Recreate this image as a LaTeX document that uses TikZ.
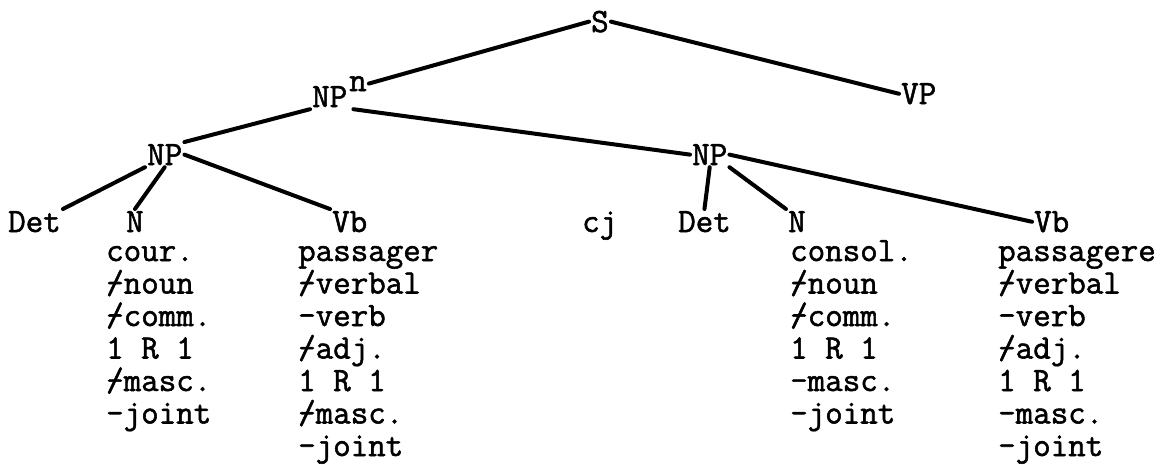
\documentclass[tikz,border=0pt]{standalone}
\usepackage{fontspec}
\newfontfamily\tw{Latin Modern Mono}[FakeBold=1.6]
\newcommand{\ov}{\rlap{/}-}
\begin{document}
\begin{tikzpicture}[x=1pt,y=-1pt,
  lbl/.style={anchor=base west,inner sep=2pt,font=\tw\fontsize{34}{32}\selectfont},
  edge/.style={line width=4pt,line cap=round}]
\useasboundingbox (0,0) rectangle (1175,464);
% top levels
\node[lbl] (s) at (589,32) {S};
\node[lbl] (npn) at (310,107) {NP};
\node[lbl] (sup) at (347,91) {n};
\node[lbl] (vp) at (899,104) {VP};
\node[lbl] (npl) at (145,165) {NP};
\node[lbl] (npr) at (690,165) {NP};
% terminals
\node[lbl] (detl) at (6,232) {Det};
\node[lbl] (nl) at (124,232) {N};
\node[lbl] (vbl) at (330,232) {Vb};
\node[lbl] (cj) at (580,232) {cj};
\node[lbl] (detr) at (676,232) {Det};
\node[lbl] (nr) at (786,232) {N};
\node[lbl] (vbr) at (1032,232) {Vb};
% feature columns
\foreach \t [count=\i from 0] in {cour.,\ov noun,\ov comm.,1 R 1,\ov masc.,-joint}
  \node[lbl] (fa\i) at (104,{261+32.5*\i}) {\t};
\foreach \t [count=\i from 0] in {passager,\ov verbal,-verb,\ov adj.,1 R 1,\ov masc.,-joint}
  \node[lbl] (fb\i) at (296,{261+32.5*\i}) {\t};
\foreach \t [count=\i from 0] in {consol.,\ov noun,\ov comm.,1 R 1,-masc.,-joint}
  \node[lbl] (fc\i) at (788,{261+32.5*\i}) {\t};
\foreach \t [count=\i from 0] in {passagere,\ov verbal,-verb,\ov adj.,1 R 1,-masc.,-joint}
  \node[lbl] (fd\i) at (996,{261+32.5*\i}) {\t};
% connectors
\draw[edge] (s.west) -- (sup.east);
\draw[edge] (s.east) -- (vp.west);
\draw[edge] (npn.south west) -- (npl.north east);
\draw[edge] ([xshift=4pt]npn.south east) -- (npr.west);
\draw[edge] (npl.south west) -- (detl.north east);
\draw[edge] (npl.south) -- (nl.north);
\draw[edge] (npl.east) -- (vbl.north west);
\draw[edge] (npr.south) -- (detr.north);
\draw[edge] (npr.south east) -- (nr.north west);
\draw[edge] (npr.east) -- (vbr.west);
\end{tikzpicture}
\end{document}
